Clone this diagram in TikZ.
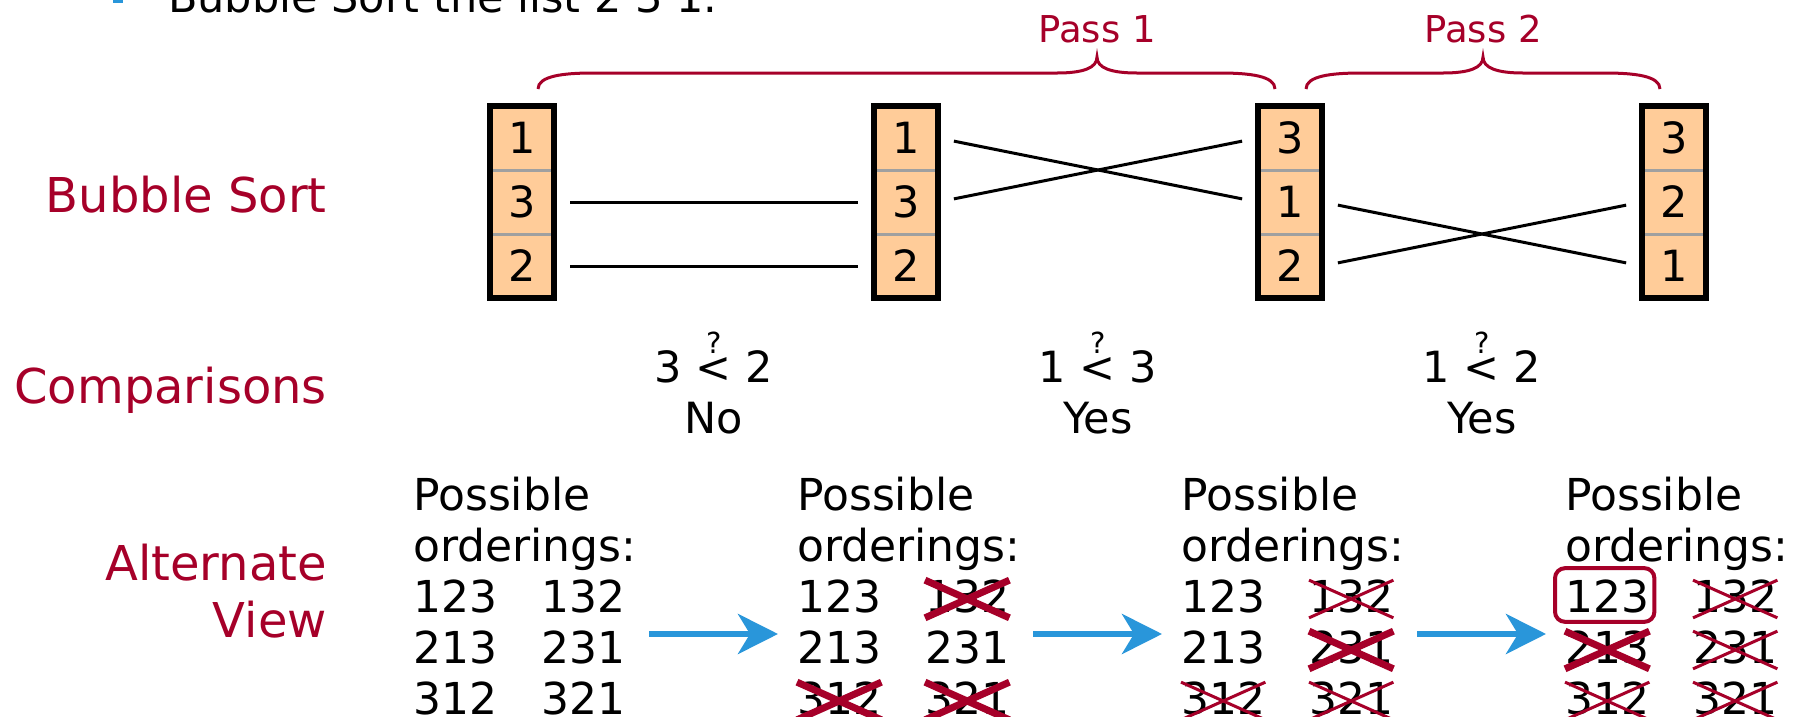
\documentclass[tikz,border=0pt]{standalone}
\usepackage{fontspec}
\setmainfont{DejaVu Sans}
\usetikzlibrary{arrows.meta}

\definecolor{crimson}{RGB}{166,0,41}
\definecolor{peach}{RGB}{255,204,153}
\definecolor{divider}{RGB}{160,160,160}
\definecolor{skyblue}{RGB}{41,150,218}

% "less than" with a small question mark above it
\newcommand{\qlt}{\ooalign{<\cr\hidewidth\raisebox{29pt}{\fontsize{29}{29}\selectfont ?}\hidewidth\cr}}
% strike an ordering out with a red cross
\newcommand{\strikeorder}[2]{%
  \draw[#1] ([shift={(0,1)}]#2.north west) -- ([shift={(0,5)}]#2.south east)
            ([shift={(0,5)}]#2.south west) -- ([shift={(0,1)}]#2.north east);}

\tikzset{
  cell/.style={rectangle, fill=peach, minimum width=64, minimum height=64,
               inner sep=0, font=\fontsize{43}{43}\selectfont},
  boxframe/.style={line width=6, black},
  divline/.style={line width=3, divider},
  link/.style={line width=3, black, shorten <=16, shorten >=16},
  brace/.style={line width=3, crimson},
  passlbl/.style={inner sep=0, text=crimson, font=\fontsize{37}{37}\selectfont, anchor=base},
  side/.style={inner sep=0, text=crimson, font=\fontsize{48}{57}\selectfont, anchor=base east},
  cmp/.style={inner sep=0, font=\fontsize{43}{51}\selectfont, anchor=base},
  ord/.style={inner sep=0, font=\fontsize{44}{51}\selectfont, anchor=base west},
  thickx/.style={line width=7, crimson},
  thinx/.style={line width=3, crimson},
  flow/.style={line width=6, skyblue, -{Stealth[length=40, width=40, inset=12]}},
}

\begin{document}
\begin{tikzpicture}[x=1pt, y=-1pt]
\useasboundingbox (0,0) rectangle (1796,716);
\clip (0,0) rectangle (1796,716);
\fill[white] (0,0) rectangle (1796,716);

% heading line running off the top edge
\fill[skyblue] (113,-6) rectangle (123,3);
\node[ord, font=\fontsize{43}{51}\selectfont] (title) at (168,12.5) {Bubble Sort the list 2 3 1.};

% row labels
\node[side] (lblsort) at (327,212) {Bubble Sort};
\node[side] (lblcmp) at (327,403) {Comparisons};
\node[side] (lblalt) at (327,580) {Alternate};
\node[side] (lblview) at (327,637) {View};

% the four states of the array
\foreach \b/\x/\p/\q/\r in {1/522/1/3/2, 2/906/1/3/2, 3/1290/3/1/2, 4/1674/3/2/1}{
  \node[cell] (b\b a) at (\x,138) {\p};
  \node[cell] (b\b b) at (\x,202) {\q};
  \node[cell] (b\b c) at (\x,266) {\r};
  \draw[divline] (b\b a.south west) -- (b\b a.south east);
  \draw[divline] (b\b b.south west) -- (b\b b.south east);
  \draw[boxframe] (b\b a.north west) rectangle (b\b c.south east);
}

% element moves between states
\draw[link] (b1b.east) -- (b2b.west);
\draw[link] (b1c.east) -- (b2c.west);
\draw[link] (b2a.east) -- (b3b.west);
\draw[link] (b2b.east) -- (b3a.west);
\draw[link] (b3b.east) -- (b4c.west);
\draw[link] (b3c.east) -- (b4b.west);

% pass braces
\draw[brace] (538,89) .. controls (538,76) and (563,73) .. (593,73)
  -- (1057,73) .. controls (1083,73) and (1097,68) .. (1097,57)
  .. controls (1097,68) and (1111,73) .. (1137,73)
  -- (1220,73) .. controls (1250,73) and (1275,76) .. (1275,89);
\draw[brace] (1306,89) .. controls (1306,76) and (1331,73) .. (1361,73)
  -- (1443,73) .. controls (1469,73) and (1483,68) .. (1483,57)
  .. controls (1483,68) and (1497,73) .. (1523,73)
  -- (1605,73) .. controls (1635,73) and (1660,76) .. (1660,89);
\node[passlbl] (pass1) at (1097,42) {Pass 1};
\node[passlbl] (pass2) at (1483,42) {Pass 2};

% comparisons
\node[cmp] (cmp1) at (714,382) {3 \qlt{} 2};
\node[cmp] (ans1) at (714,433) {No};
\node[cmp] (cmp2) at (1098,382) {1 \qlt{} 3};
\node[cmp] (ans2) at (1098,433) {Yes};
\node[cmp] (cmp3) at (1482,382) {1 \qlt{} 2};
\node[cmp] (ans3) at (1482,433) {Yes};

% possible orderings after each step
\foreach \c/\x in {1/413, 2/797, 3/1181, 4/1565}{
  \node[ord] (o\c p) at (\x,510) {Possible};
  \node[ord] (o\c o) at (\x,561) {orderings:};
  \node[ord] (o\c n123) at (\x,612) {123};
  \node[ord] (o\c n132) at (\x+128,612) {132};
  \node[ord] (o\c n213) at (\x,663) {213};
  \node[ord] (o\c n231) at (\x+128,663) {231};
  \node[ord] (o\c n312) at (\x,714) {312};
  \node[ord] (o\c n321) at (\x+128,714) {321};
}

% eliminated orderings
\strikeorder{thickx}{o2n132}
\strikeorder{thickx}{o2n312}
\strikeorder{thickx}{o2n321}
\strikeorder{thinx}{o3n132}
\strikeorder{thickx}{o3n231}
\strikeorder{thinx}{o3n312}
\strikeorder{thinx}{o3n321}
\strikeorder{thinx}{o4n132}
\strikeorder{thickx}{o4n213}
\strikeorder{thinx}{o4n231}
\strikeorder{thinx}{o4n312}
\strikeorder{thinx}{o4n321}

% the surviving ordering
\draw[line width=4, crimson, rounded corners=10]
  ([shift={(-10,-11)}]o4n123.north west) rectangle ([shift={(5,9)}]o4n123.south east);

% steps between the ordering sets
\draw[flow] ([shift={(24,-13)}]o1n231.east) -- ([shift={(-19,-13)}]o2n213.west);
\draw[flow] ([shift={(24,-13)}]o2n231.east) -- ([shift={(-19,-13)}]o3n213.west);
\draw[flow] ([shift={(24,-13)}]o3n231.east) -- ([shift={(-19,-13)}]o4n213.west);
\end{tikzpicture}
\end{document}
